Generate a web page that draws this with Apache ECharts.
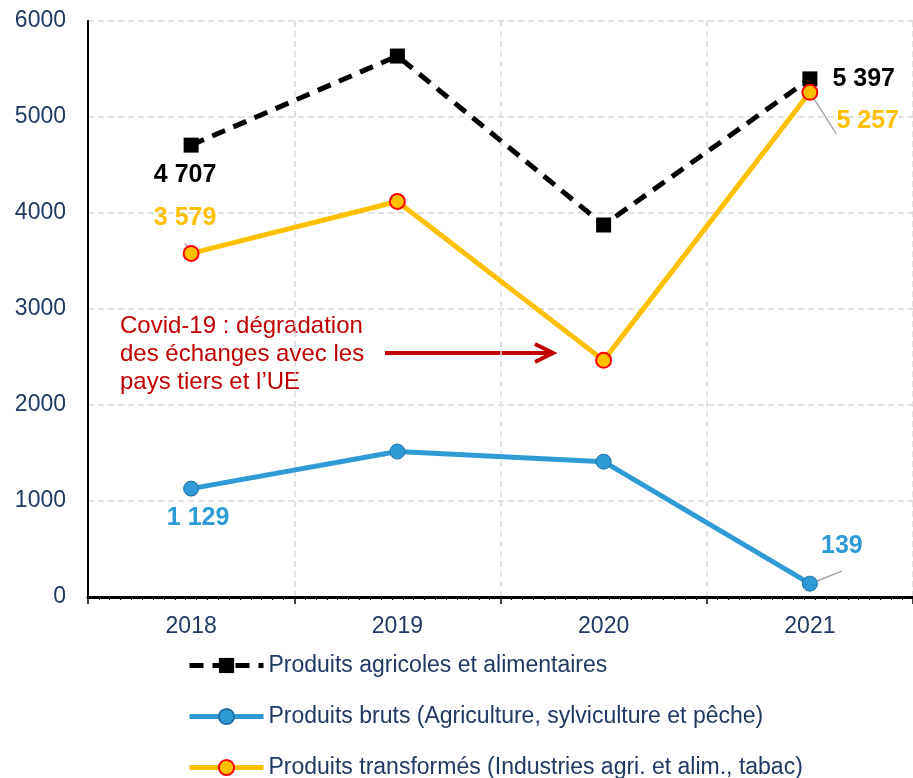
<!doctype html>
<html>
<head>
<meta charset="utf-8">
<title>Produits agricoles</title>
<style>
  html, body { margin: 0; padding: 0; background: #fff; }
  #main { width: 913px; height: 778px; }
</style>
</head>
<body>
<div id="main"></div>
<script src="https://cdn.jsdelivr.net/npm/echarts@6/dist/echarts.min.js"></script>
<script>
var years = ['2018', '2019', '2020', '2021'];
var totalValues = [4707, 5635, 3875, 5397];
var brutsValues = [1129, 1515, 1410, 139];
var transfValues = [3579, 4120, 2465, 5257];
var seriesNames = [
  'Produits agricoles et alimentaires',
  'Produits bruts (Agriculture, sylviculture et pêche)',
  'Produits transformés (Industries agri. et alim., tabac)'
];
var yTicks = [0, 6000, 1000];

var navy = '#1F3864';
var fontFam = 'Arial, "Liberation Sans", sans-serif';

function fmt(v) {
  return String(v).replace(/\B(?=(\d{3})+(?!\d))/g, ' ');
}

// which points carry a label and where it goes
function withLabels(values, color, spec) {
  return values.map(function (v, i) {
    var s = spec[i];
    if (!s) return v;
    return {
      value: v,
      label: {
        show: true,
        position: s.pos,
        distance: s.dist,
        offset: s.off || [0, 0],
        formatter: function (p) { return fmt(p.value); },
        color: color,
        fontFamily: fontFam,
        fontWeight: 'bold',
        fontSize: 25
      },
      labelLine: s.line ? {
        show: true,
        lineStyle: { color: '#A6A6A6', width: 1.5 }
      } : { show: false }
    };
  });
}

function legendAt(name, top) {
  return {
    orient: 'vertical',
    left: 187,
    top: top,
    padding: 0,
    itemWidth: 74,
    itemHeight: 19,
    lineStyle: { width: 5 },
    textStyle: { color: navy, fontSize: 23, fontFamily: fontFam },
    data: [name]
  };
}

var chart = echarts.init(document.getElementById('main'));

chart.setOption({
  animation: false,
  grid: { left: 88, top: 21, right: -5, bottom: 181, containLabel: false },
  legend: [
    legendAt(seriesNames[0], 654),
    legendAt(seriesNames[1], 705),
    legendAt(seriesNames[2], 756)
  ],
  xAxis: [{
    type: 'category',
    data: years,
    boundaryGap: true,
    axisLine: { lineStyle: { color: '#000', width: 3 } },
    axisTick: { show: false },
    axisLabel: { color: navy, fontSize: 23, fontFamily: fontFam, margin: 18 },
    splitLine: { show: false }
  }, {
    type: 'value',
    position: 'bottom',
    min: 0, max: 4, interval: 1,
    axisLine: { show: false },
    axisLabel: { show: false },
    axisTick: { show: true, length: 7, lineStyle: { color: '#000', width: 1.5 } },
    minorTick: { show: true, splitNumber: 19, length: 3, lineStyle: { color: '#000' } },
    splitLine: { show: true, lineStyle: { color: '#D9D9D9', type: [6, 4], width: 1.5 } }
  }],
  yAxis: {
    type: 'value',
    min: yTicks[0], max: yTicks[1], interval: yTicks[2],
    axisLine: { show: true, lineStyle: { color: '#000', width: 2 } },
    axisTick: { show: false },
    axisLabel: {
      color: navy, fontSize: 23, fontFamily: fontFam, margin: 22,
      formatter: function (v) { return String(v); }
    },
    splitLine: { lineStyle: { color: '#D9D9D9', type: [6, 4], width: 1.5 } }
  },
  series: [{
    name: seriesNames[0],
    type: 'line',
    data: withLabels(totalValues, '#000', {
      0: { pos: 'bottom', dist: 10, off: [-6, 0] },
      3: { pos: 'right', dist: 15 }
    }),
    symbol: 'rect',
    symbolSize: 15,
    itemStyle: { color: '#000' },
    lineStyle: { color: '#000', width: 5, type: [14, 9] },
    z: 2
  }, {
    name: seriesNames[1],
    type: 'line',
    data: withLabels(brutsValues, '#2E9BD6', {
      0: { pos: 'bottom', dist: 9, off: [7, 0] },
      3: { pos: 'top', dist: 17, off: [32, 0], line: true }
    }),
    symbol: 'circle',
    symbolSize: 15,
    itemStyle: { color: '#2E9BD6', borderColor: '#1C6EA4', borderWidth: 1 },
    lineStyle: { color: '#2E9BD6', width: 5 },
    z: 3
  }, {
    name: seriesNames[2],
    type: 'line',
    data: withLabels(transfValues, '#FFC000', {
      0: { pos: 'top', dist: 14, off: [-6, 0], line: true },
      3: { pos: 'right', dist: 18, off: [0, 29], line: true }
    }),
    symbol: 'circle',
    symbolSize: 15,
    itemStyle: { color: '#FFC000', borderColor: '#FF0000', borderWidth: 2 },
    lineStyle: { color: '#FFC000', width: 5 },
    z: 4
  }],
  graphic: [{
    type: 'text',
    left: 120,
    top: 312,
    style: {
      text: 'Covid-19 : dégradation\ndes échanges avec les\npays tiers et l\u2019UE',
      fill: '#C00000',
      font: '24px ' + fontFam,
      lineHeight: 28
    }
  }, {
    type: 'line',
    shape: { x1: 385, y1: 353, x2: 553, y2: 353 },
    style: { stroke: '#C00000', lineWidth: 4 }
  }, {
    type: 'polyline',
    shape: { points: [[535, 344], [553, 353], [535, 362]] },
    style: { stroke: '#C00000', lineWidth: 4, fill: null }
  }]
});
</script>
</body>
</html>
